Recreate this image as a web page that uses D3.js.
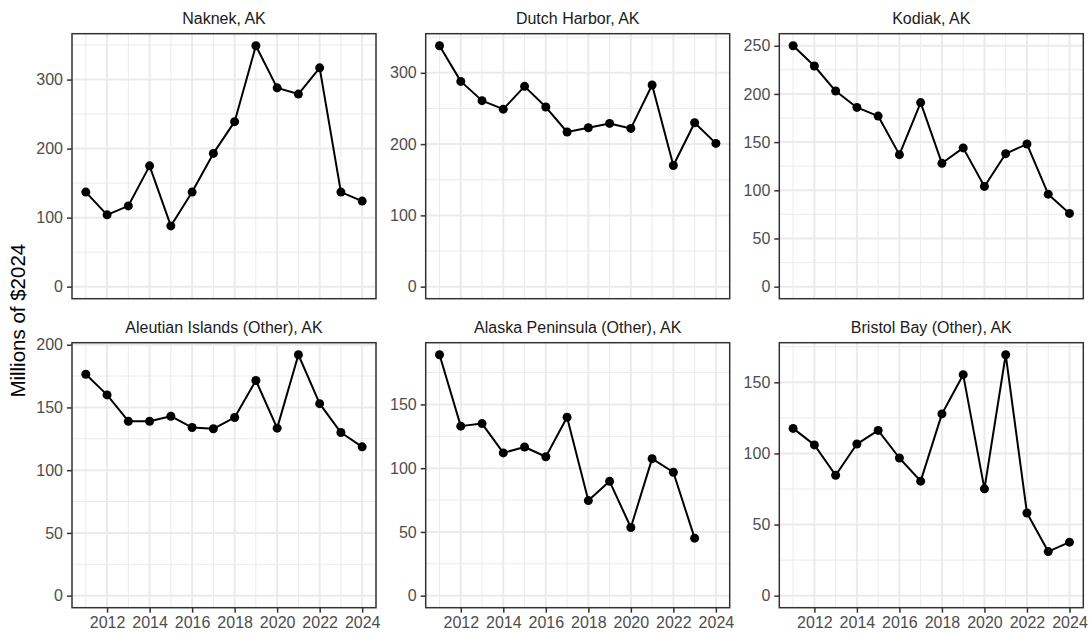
<!DOCTYPE html>
<html>
<head>
<meta charset="utf-8">
<script src="https://cdn.jsdelivr.net/npm/d3@7"></script>
<style>
  html, body { margin: 0; padding: 0; background: #ffffff; }
  svg { display: block; font-family: "Liberation Sans", Arial, sans-serif; }
</style>
</head>
<body>
<svg id="chart" width="1091" height="633"></svg>
<script>
// Annual values (millions of 2024 dollars) for six Alaska ports/regions
const years = [2011, 2012, 2013, 2014, 2015, 2016, 2017, 2018, 2019, 2020, 2021, 2022, 2023, 2024];
const panelTitles = [
  "Naknek, AK",
  "Dutch Harbor, AK",
  "Kodiak, AK",
  "Aleutian Islands (Other), AK",
  "Alaska Peninsula (Other), AK",
  "Bristol Bay (Other), AK"
];
const naknek     = [137, 104, 117, 175, 88, 137, 193, 239, 349, 288, 279, 317, 137, 124];
const dutchHarbor = [338, 288, 261, 249, 281, 252, 217, 223, 229, 222, 283, 170, 230, 201];
const kodiak     = [250, 229, 203, 186, 177, 137, 191, 128, 144, 104, 138, 148, 96, 76];
const aleutian   = [176.5, 160, 139, 139, 143, 134, 133, 142, 171.5, 133.5, 192, 153, 130, 118.6];
const peninsula  = [189, 133, 135, 112, 116.6, 109, 140, 74.6, 89.7, 53.5, 107.5, 96.8, 45.1, null];
const bristolBay = [117.6, 106, 84.7, 106.6, 116.2, 96.8, 80.5, 127.8, 155.4, 75.1, 169.4, 58.1, 31, 37.6];

// Axis breaks
const xTicks = [2012, 2014, 2016, 2018, 2020, 2022, 2024];
const yTicksNaknek    = [0, 100, 200, 300];
const yTicksDutch     = [0, 100, 200, 300];
const yTicksKodiak    = [0, 50, 100, 150, 200, 250];
const yTicksAleutian  = [0, 50, 100, 150, 200];
const yTicksPeninsula = [0, 50, 100, 150];
const yTicksBristol   = [0, 50, 100, 150];
const yAxisTitle = "Millions of $2024";

const seriesList = [naknek, dutchHarbor, kodiak, aleutian, peninsula, bristolBay];
const yTickList = [yTicksNaknek, yTicksDutch, yTicksKodiak, yTicksAleutian, yTicksPeninsula, yTicksBristol];

// Layout
const panelLefts = [72, 425.7, 779.3];
const panelTops = [33.7, 342.7];
const panelW = 304, panelH = 265;
const gridCol = "#EBEBEB", borderCol = "#333333", tickCol = "#333333", labelCol = "#4D4D4D";
const fontSize = 16;

const svg = d3.select("#chart");

// Shared x scale with 5% expansion on each side
const xMin = d3.min(years), xMax = d3.max(years);
const xPad = (xMax - xMin) * 0.05;
const x = d3.scaleLinear().domain([xMin - xPad, xMax + xPad]).range([0, panelW]);

// Minor breaks halfway between majors (extended one step each side, kept inside limits)
function minorBreaks(major, domain) {
  const step = major[1] - major[0];
  const ext = [major[0] - step, ...major, major[major.length - 1] + step];
  const out = [];
  for (let i = 0; i < ext.length - 1; i++) {
    const m = (ext[i] + ext[i + 1]) / 2;
    if (m >= domain[0] && m <= domain[1]) out.push(m);
  }
  return out;
}
const xMinor = minorBreaks(xTicks, x.domain());

seriesList.forEach((vals, i) => {
  const col = i % 3, row = Math.floor(i / 3);
  const g = svg.append("g").attr("transform", `translate(${panelLefts[col]},${panelTops[row]})`);

  const pts = years.map((yr, j) => ({ year: yr, value: vals[j] })).filter(d => d.value != null);
  const yMaxV = d3.max(pts, d => d.value);
  const yLo = 0, yPad = (yMaxV - yLo) * 0.05;
  const y = d3.scaleLinear().domain([yLo - yPad, yMaxV + yPad]).range([panelH, 0]);
  const yTicks = yTickList[i];
  const yMinor = minorBreaks(yTicks, y.domain());

  // background
  g.append("rect").attr("width", panelW).attr("height", panelH).attr("fill", "#ffffff");

  // minor grid
  g.selectAll(".xminor").data(xMinor).enter().append("line")
    .attr("x1", d => x(d)).attr("x2", d => x(d)).attr("y1", 0).attr("y2", panelH)
    .attr("stroke", gridCol).attr("stroke-width", 1);
  g.selectAll(".yminor").data(yMinor).enter().append("line")
    .attr("x1", 0).attr("x2", panelW).attr("y1", d => y(d)).attr("y2", d => y(d))
    .attr("stroke", gridCol).attr("stroke-width", 1);
  // major grid
  g.selectAll(".xmajor").data(xTicks).enter().append("line")
    .attr("x1", d => x(d)).attr("x2", d => x(d)).attr("y1", 0).attr("y2", panelH)
    .attr("stroke", gridCol).attr("stroke-width", 2);
  g.selectAll(".ymajor").data(yTicks).enter().append("line")
    .attr("x1", 0).attr("x2", panelW).attr("y1", d => y(d)).attr("y2", d => y(d))
    .attr("stroke", gridCol).attr("stroke-width", 2);

  // series line and points
  const line = d3.line().x(d => x(d.year)).y(d => y(d.value));
  g.append("path").datum(pts).attr("d", line)
    .attr("fill", "none").attr("stroke", "#000000").attr("stroke-width", 2)
    .attr("stroke-linejoin", "round");
  g.selectAll(".pt").data(pts).enter().append("circle")
    .attr("cx", d => x(d.year)).attr("cy", d => y(d.value)).attr("r", 4.5)
    .attr("fill", "#000000");

  // panel border
  g.append("rect").attr("width", panelW).attr("height", panelH)
    .attr("fill", "none").attr("stroke", borderCol).attr("stroke-width", 1.5);

  // y axis
  const yAxis = d3.axisLeft(y).tickValues(yTicks).tickSize(5).tickPadding(4).tickFormat(d3.format("d"));
  const ya = g.append("g").call(yAxis);
  ya.select(".domain").remove();
  ya.selectAll(".tick line").attr("stroke", tickCol).attr("stroke-width", 1.5);
  ya.selectAll(".tick text").attr("fill", labelCol).style("font-size", fontSize + "px")
    .style("font-family", "'Liberation Sans', Arial, sans-serif");

  // x axis only on bottom row
  if (row === 1) {
    const xAxis = d3.axisBottom(x).tickValues(xTicks).tickSize(5).tickPadding(4).tickFormat(d3.format("d"));
    const xa = g.append("g").attr("transform", `translate(0,${panelH})`).call(xAxis);
    xa.select(".domain").remove();
    xa.selectAll(".tick line").attr("stroke", tickCol).attr("stroke-width", 1.5);
    xa.selectAll(".tick text").attr("fill", labelCol).style("font-size", fontSize + "px")
      .style("font-family", "'Liberation Sans', Arial, sans-serif");
  }

  // strip title
  g.append("text").attr("x", panelW / 2).attr("y", -9.5)
    .attr("text-anchor", "middle").attr("fill", "#1A1A1A")
    .style("font-size", fontSize + "px").text(panelTitles[i]);
});

// shared y axis title
const midY = (panelTops[0] + panelTops[1] + panelH) / 2;
svg.append("text")
  .attr("transform", `translate(25,${midY}) rotate(-90)`)
  .attr("text-anchor", "middle").attr("fill", "#000000")
  .style("font-size", "20.5px").text(yAxisTitle);
</script>
</body>
</html>
